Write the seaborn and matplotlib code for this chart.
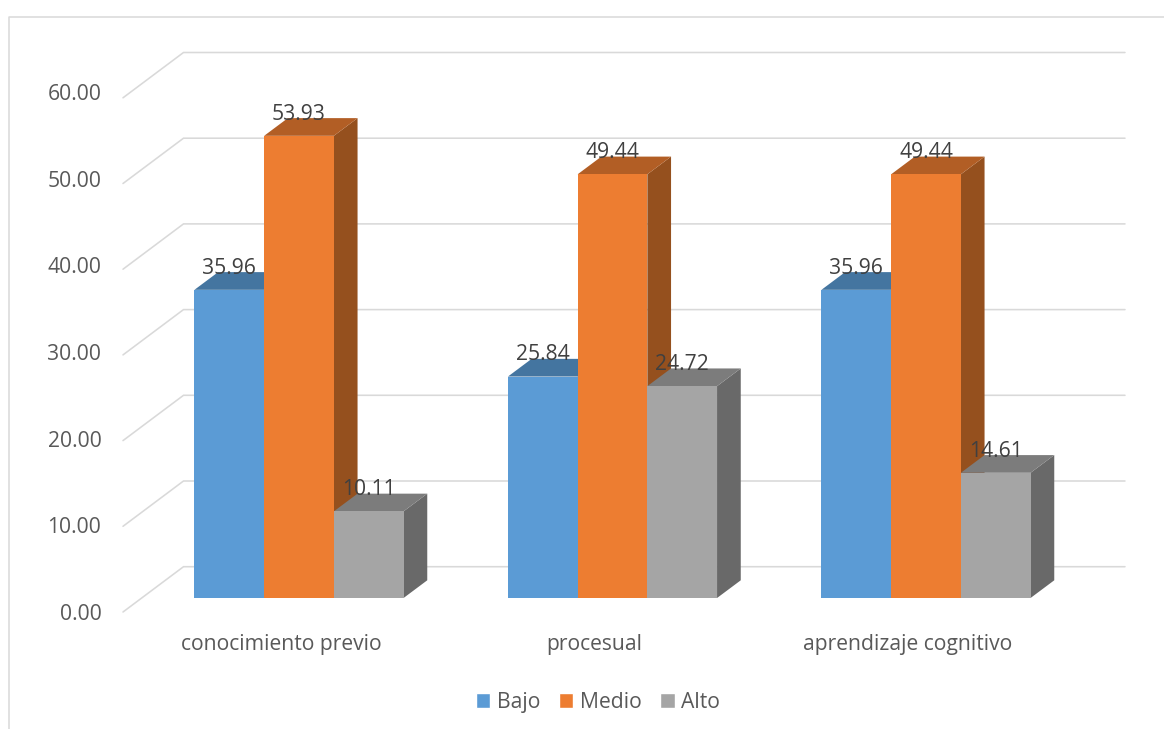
import matplotlib
matplotlib.use("Agg")
import matplotlib.pyplot as plt
from matplotlib.lines import Line2D
from matplotlib.patches import Polygon
from matplotlib.transforms import ScaledTranslation
import pandas as pd
import seaborn as sns

categories = ["conocimiento previo", "procesual", "aprendizaje cognitivo"]
levels = ["Bajo", "Medio", "Alto"]
bajo = [35.96, 25.84, 35.96]
medio = [53.93, 49.44, 49.44]
alto = [10.11, 24.72, 14.61]
y_ticks = [0, 10, 20, 30, 40, 50, 60]

front_colors = ["#5B9BD5", "#ED7D31", "#A5A5A5"]
top_colors = ["#4475A0", "#B25E25", "#7C7C7C"]
side_colors = ["#3B6690", "#95501E", "#696969"]

W, H = 1164, 729
PX_PER_UNIT = 8.57
GROUP_PX = 313.5
LEFT, RIGHT = 123, 1125
FONT = 15.25

sns.set_theme(style="white")
plt.rcParams["font.family"] = ["Open Sans", "DejaVu Sans"]

fig = plt.figure(figsize=(W / 100, H / 100), dpi=100, facecolor="white")


def axes_px(x0, x1, y_bottom, y_top):
    return fig.add_axes([x0 / W, 1 - y_bottom / H, (x1 - x0) / W, (y_bottom - y_top) / H])


# Outer chart frame (only top and left edges show in the reference)
fig.add_artist(Line2D([8.5 / W, 8.5 / W, 1], [0, 1 - 16.5 / H, 1 - 16.5 / H],
                      color="#D9D9D9", lw=1.1, transform=fig.transFigure))

# Walls: gridlines from the front edge running to the back wall
floor_front = 612
ax_wall = axes_px(LEFT, RIGHT, floor_front, 30)
ax_wall.set_xlim(LEFT, RIGHT)
ax_wall.set_ylim(0, (floor_front - 30) / PX_PER_UNIT)
wall_dx = 60.5
wall_dy = 45.3 / PX_PER_UNIT
for v in y_ticks:
    ax_wall.plot([LEFT, LEFT + wall_dx, RIGHT], [v, v + wall_dy, v + wall_dy],
                 color="#D9D9D9", lw=1.15, solid_joinstyle="miter", clip_on=False)
ax_wall.set_xticks([])
ax_wall.set_yticks([])
sns.despine(ax=ax_wall, left=True, bottom=True)
ax_wall.patch.set_alpha(0)

# Value labels have their own, slightly wider spacing in the reference
ax_vals = axes_px(LEFT, RIGHT, 612, 92)
ax_vals.patch.set_alpha(0)
ax_vals.set_ylim(0, 60)
ax_vals.set_xticks([])
ax_vals.set_yticks(y_ticks)
ax_vals.set_yticklabels([f"{v:.2f}" for v in y_ticks], fontsize=FONT, color="#595959")
ax_vals.tick_params(axis="y", length=0, pad=15.5)
sns.despine(ax=ax_vals, left=True, bottom=True)

# Bars
base_y = 598
ax = axes_px(LEFT, RIGHT, base_y, 30)
ax.patch.set_alpha(0)
df = pd.DataFrame({
    "categoria": categories * 3,
    "nivel": [lv for lv in levels for _ in categories],
    "valor": bajo + medio + alto,
})
sns.barplot(data=df, x="categoria", y="valor", hue="nivel", order=categories, hue_order=levels,
            palette=front_colors, saturation=1, width=0.667, gap=0, dodge=True, errorbar=None, ax=ax)
ax.set_xlim((LEFT - 299) / GROUP_PX, (RIGHT - 299) / GROUP_PX)
ax.set_ylim(0, (base_y - 30) / PX_PER_UNIT)
ax.set_xlabel("")
ax.set_ylabel("")
ax.set_yticks([])
ax.tick_params(axis="x", length=0, pad=26, labelsize=FONT, labelcolor="#595959")
sns.despine(ax=ax, left=True, bottom=True)
shift = ScaledTranslation(-18 / 100, 0, fig.dpi_scale_trans)
for lab in ax.get_xticklabels():
    lab.set_transform(lab.get_transform() + shift)

# Extruded top and side faces built from each drawn bar
depth_x = 23.7 / GROUP_PX
depth_y = 17.7 / PX_PER_UNIT
for j, container in enumerate(ax.containers):
    z = 2 + j
    for bar in container:
        x, w, h = bar.get_x(), bar.get_width(), bar.get_height()
        bar.set_zorder(z + 0.2)
        bar.set_edgecolor("none")
        ax.add_patch(Polygon([(x, h), (x + depth_x, h + depth_y), (x + w + depth_x, h + depth_y), (x + w, h)],
                             closed=True, fc=top_colors[j], ec="none", zorder=z + 0.1))
        ax.add_patch(Polygon([(x + w, 0), (x + w + depth_x, depth_y), (x + w + depth_x, h + depth_y), (x + w, h)],
                             closed=True, fc=side_colors[j], ec="none", zorder=z))
    labels = ax.bar_label(container, fmt="%.2f", padding=11.6, fontsize=FONT, color="#404040", zorder=10)
    for t in labels:
        t.set_verticalalignment("baseline")

# Legend
handles, names = ax.get_legend_handles_labels()
ax.get_legend().remove()
leg = fig.legend(handles, names, loc="center", bbox_to_anchor=(598 / W, 1 - 702.5 / H), ncol=3,
                 frameon=False, fontsize=FONT, labelcolor="#595959", handlelength=0.67, handleheight=0.67,
                 handletextpad=0.3, columnspacing=0.9, borderpad=0, borderaxespad=0)

fig.savefig("out.png", dpi=100, facecolor="white")
